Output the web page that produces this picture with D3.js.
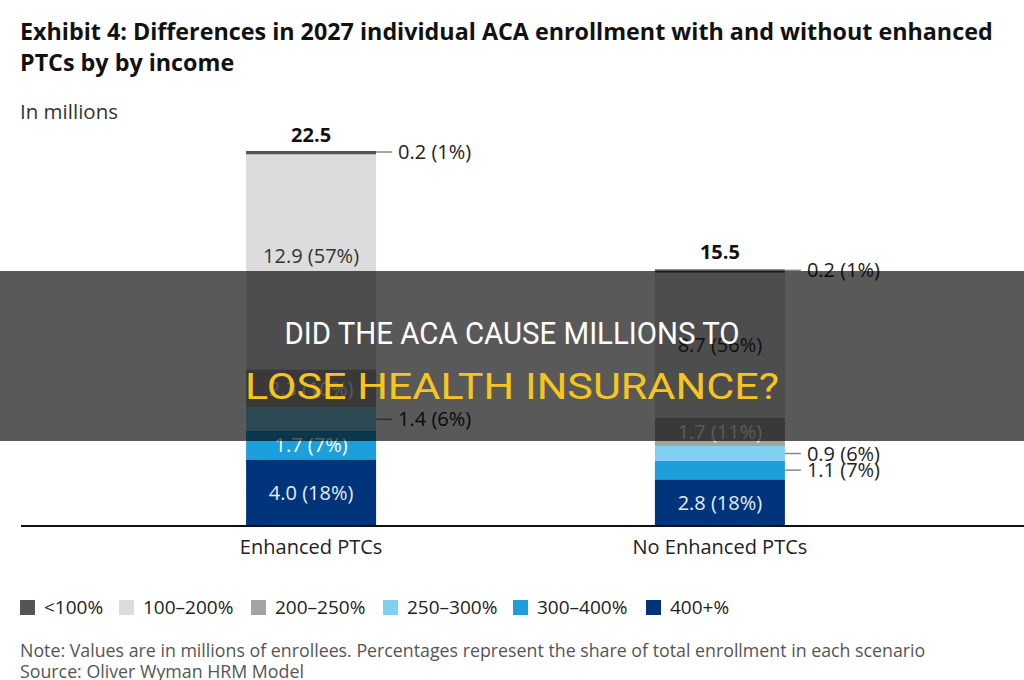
<!DOCTYPE html>
<html>
  <head>
    <meta charset="utf-8">
    <title>ACA enrollment with and without enhanced PTCs</title>
    <script src="https://d3js.org/d3.v7.min.js"></script>
    <style>
      body { margin: 0; background: #fff; }
      svg { display: block; font-family: "Open Sans", "Noto Sans", sans-serif; }
    </style>
  </head>
  <body>
    <svg id="chart" width="1024" height="680"></svg>
    <script>
      const categories = ["Enhanced PTCs", "No Enhanced PTCs"];
      const incomeGroups = ["<100%", "100–200%", "200–250%", "250–300%", "300–400%", "400+%"];
      const enhancedValues = [0.2, 12.9, 2.3, 1.4, 1.7, 4.0];
      const enhancedShares = [1, 57, 10, 6, 7, 18];
      const noEnhancedValues = [0.2, 8.7, 1.7, 0.9, 1.1, 2.8];
      const noEnhancedShares = [1, 56, 11, 6, 7, 18];
      const totals = [22.5, 15.5];
      const groupColors = ["#555555", "#dcdcdc", "#a3a3a3", "#7fd0f1", "#1d9fdb", "#00347a"];
      const labelColors = ["#222", "#333", "#fff", "#222", "#fff", "#e4ecf6"];

      // name page elements
      svg = d3.select("#chart");
      margin = { top: 151, bottom: 526 };

      // build rows for d3.stack
      valueRows = [enhancedValues, noEnhancedValues];
      shareRows = [enhancedShares, noEnhancedShares];
      table = categories.map(function(c, i) {
        row = { category: c };
        incomeGroups.forEach(function(g, j) { row[g] = valueRows[i][j]; });
        return row;
      });
      stackKeys = incomeGroups.slice().reverse();   // 400+% at the bottom
      series = d3.stack().keys(stackKeys)(table);

      x = d3.scaleBand()
        .domain(categories)
        .range([103, 928])
        .paddingInner(0.682)
        .paddingOuter(0.35);
      y = d3.scaleLinear()
        .domain([0, 22.5])
        .range([margin.bottom, margin.top]);
      color = d3.scaleOrdinal().domain(incomeGroups).range(groupColors);
      textColor = d3.scaleOrdinal().domain(incomeGroups).range(labelColors);

      // title
      svg.append("text")
        .attr("x", 20).attr("y", 40)
        .style("font-size", "23.3px").style("font-weight", 700).style("fill", "#111")
        .text("Exhibit 4: Differences in 2027 individual ACA enrollment with and without enhanced");
      svg.append("text")
        .attr("x", 20).attr("y", 71)
        .style("font-size", "23.3px").style("font-weight", 700).style("fill", "#111")
        .text("PTCs by by income");
      svg.append("text")
        .attr("x", 20).attr("y", 119)
        .style("font-size", "20.5px").style("fill", "#333")
        .text("In millions");

      // bars
      layers = svg.append("g").selectAll("g")
        .data(series)
        .join("g")
          .attr("fill", function(d) { return color(d.key); });
      layers.selectAll("rect")
        .data(function(d) { return d; })
        .join("rect")
          .attr("x", function(d) { return x(d.data.category); })
          .attr("width", x.bandwidth())
          .attr("y", function(d) { return y(d[1]); })
          .attr("height", function(d) { return y(d[0]) - y(d[1]); });

      // segment labels, inside when there is room, otherwise with a leader line
      labelGroup = svg.append("g").style("font-size", "20px");
      series.forEach(function(s) {
        gi = incomeGroups.indexOf(s.key);
        s.forEach(function(d, ci) {
          value = valueRows[ci][gi];
          label = d3.format(".1f")(value) + " (" + shareRows[ci][gi] + "%)";
          h = y(d[0]) - y(d[1]);
          mid = (y(d[0]) + y(d[1])) / 2;
          if (s.key === "<100%") mid = y(d[1]) + 1;
          if (h >= 26) {
            labelGroup.append("text")
              .attr("x", x(d.data.category) + x.bandwidth() / 2)
              .attr("y", h > 150 ? mid - 6 : mid)
              .attr("dy", "0.35em")
              .attr("text-anchor", "middle")
              .style("fill", textColor(s.key))
              .text(label);
          } else {
            right = x(d.data.category) + x.bandwidth();
            labelGroup.append("line")
              .attr("x1", right).attr("x2", right + 16)
              .attr("y1", mid).attr("y2", mid)
              .style("stroke", "#8a8a8a").style("stroke-width", 1.5);
            labelGroup.append("text")
              .attr("x", right + 22)
              .attr("y", mid)
              .attr("dy", "0.35em")
              .style("fill", "#222")
              .text(label);
          }
        });
      });

      // totals
      svg.append("g").selectAll("text")
        .data(categories)
        .join("text")
          .attr("x", function(d) { return x(d) + x.bandwidth() / 2; })
          .attr("y", function(d, i) { return y(totals[i]) - 9; })
          .attr("text-anchor", "middle")
          .style("font-size", "20px").style("font-weight", 700).style("fill", "#111")
          .text(function(d, i) { return d3.format(".1f")(totals[i]); });

      // baseline and category axis
      xAxis = d3.axisBottom(x).tickSize(0).tickPadding(14);
      xAxisGroup = svg.append("g")
        .attr("transform", "translate(0," + margin.bottom + ")")
        .call(xAxis);
      xAxisGroup.select(".domain").remove();
      xAxisGroup.append("line")
        .attr("x1", 21).attr("x2", 1024)
        .style("stroke", "#111").style("stroke-width", 2);
      xAxisGroup.selectAll(".tick text")
        .style("font-family", "'Open Sans', sans-serif")
        .style("font-size", "20px")
        .style("fill", "#222");

      // legend
      legendX = [20, 119, 251, 383, 513, 646];
      legend = svg.append("g").selectAll("g")
        .data(incomeGroups)
        .join("g")
          .attr("transform", function(d, i) { return "translate(" + legendX[i] + ",600)"; });
      legend.append("rect")
        .attr("width", 15).attr("height", 15)
        .attr("fill", function(d) { return color(d); });
      legend.append("text")
        .attr("x", 24).attr("y", 7.5).attr("dy", "0.35em")
        .style("font-size", "19px").style("fill", "#222")
        .text(function(d) { return d; });

      // notes
      svg.append("text")
        .attr("x", 20).attr("y", 657)
        .style("font-size", "17.8px").style("fill", "#555")
        .text("Note: Values are in millions of enrollees. Percentages represent the share of total enrollment in each scenario");
      svg.append("text")
        .attr("x", 20).attr("y", 678)
        .style("font-size", "17.8px").style("fill", "#555")
        .text("Source: Oliver Wyman HRM Model");

      // headline banner over the chart
      banner = svg.append("g");
      banner.append("rect")
        .attr("x", 0).attr("y", 271)
        .attr("width", 1024).attr("height", 170)
        .attr("fill", "#000").attr("fill-opacity", 0.65);
      banner.append("text")
        .attr("x", 512).attr("y", 344)
        .attr("text-anchor", "middle")
        .attr("textLength", 455).attr("lengthAdjust", "spacingAndGlyphs")
        .style("font-family", "'Liberation Sans Narrow', Roboto, sans-serif")
        .style("font-size", "31px").style("fill", "#fff")
        .text("DID THE ACA CAUSE MILLIONS TO");
      banner.append("text")
        .attr("x", 512).attr("y", 399)
        .attr("text-anchor", "middle")
        .attr("textLength", 534).attr("lengthAdjust", "spacingAndGlyphs")
        .style("font-family", "'Liberation Sans Narrow', Roboto, sans-serif")
        .style("font-size", "37px").style("fill", "#f7c51e")
        .text("LOSE HEALTH INSURANCE?");
    </script>
  </body>
</html>
